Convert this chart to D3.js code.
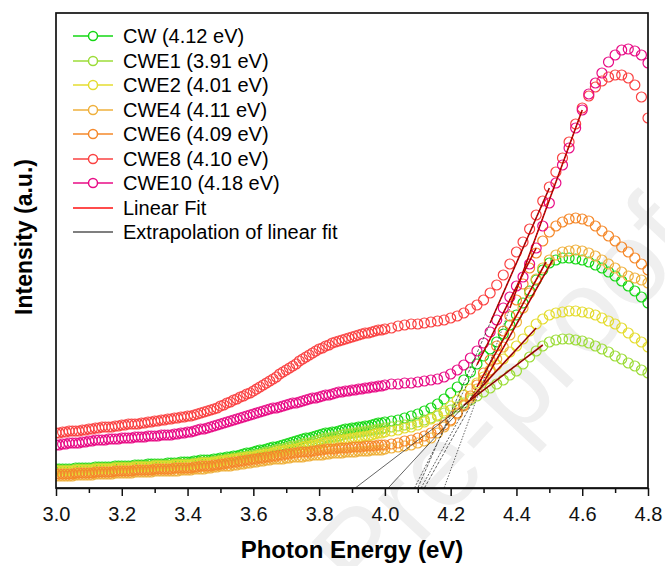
<!DOCTYPE html>
<html>
<head>
<meta charset="utf-8">
<script src="https://cdn.jsdelivr.net/npm/d3@7"></script>
<style>
  body { margin: 0; background: #fff; }
  svg { display: block; font-family: "Liberation Sans", Arial, sans-serif; }
</style>
</head>
<body>
<svg id="chart" width="665" height="566"></svg>
<script>
// photon energy grid (eV): denser where the original points are denser
var energy = [3.00,3.01,3.02,3.03,3.04,3.05,3.06,3.07,3.08,3.09,
  3.10,3.11,3.12,3.13,3.14,3.15,3.16,3.17,3.18,3.19,
  3.20,3.21,3.22,3.23,3.24,3.25,3.26,3.27,3.28,3.29,
  3.30,3.31,3.32,3.33,3.34,3.35,3.36,3.37,3.38,3.39,
  3.40,3.41,3.42,3.43,3.44,3.45,3.46,3.47,3.48,3.49,
  3.50,3.51,3.52,3.53,3.54,3.55,3.56,3.57,3.58,3.59,
  3.60,3.61,3.62,3.63,3.64,3.65,3.66,3.67,3.68,3.69,
  3.70,3.71,3.72,3.73,3.74,3.75,3.76,3.77,3.78,3.79,
  3.80,3.81,3.82,3.83,3.84,3.85,3.86,3.87,3.88,3.89,
  3.90,3.91,3.92,3.93,3.94,3.95,3.96,3.97,3.98,3.99,
  4.00,
  4.02,4.04,4.06,4.08,4.10,4.12,4.14,4.16,4.18,
  4.20,4.22,4.24,4.26,4.28,4.30,4.32,4.34,4.36,4.38,
  4.40,4.42,4.44,4.46,4.48,4.50,4.52,4.54,4.56,4.58,
  4.60,4.62,4.64,4.66,4.68,4.70,4.72,4.74,4.76,4.78,
  4.80];

// intensity (a.u.)
var cw = [19,19,19,19,19,19,20,20,20,20,
  20,20,21,21,21,21,21,21,22,22,
  22,22,22,22,23,23,23,23,24,24,
  24,24,24,24,25,25,25,25,26,26,
  26,26,27,27,28,28,28,28,29,29,
  30,30,31,31,32,32,33,34,35,35,
  36,37,38,38,39,40,41,41,42,43,
  44,45,46,47,48,49,50,50,51,52,
  53,54,55,55,56,56,57,58,59,59,
  60,60,61,61,62,62,63,64,65,65,
  66,
  67,68,70,72,74,77,80,84,89,
  95,101,108,116,124,132,139,146,154,163,
  173,185,197,208,218,225,228,230,230,229,
  228,226,223,220,216,212,207,202,197,191,
  185];
var cwe1 = [18,18,18,18,18,18,19,19,19,19,
  19,19,20,20,20,20,20,20,21,21,
  21,21,21,21,22,22,22,22,22,22,
  23,23,23,23,23,23,24,24,24,24,
  24,24,25,25,26,26,26,26,27,27,
  28,28,29,29,30,30,31,31,32,32,
  33,33,34,35,36,36,37,38,39,39,
  40,41,42,42,43,44,45,45,46,47,
  48,49,50,50,51,51,52,53,54,54,
  55,55,56,56,57,57,58,58,59,59,
  60,
  61,62,63,64,66,68,70,72,75,
  78,81,85,88,92,96,100,104,108,113,
  117,124,131,137,142,146,148,149,149,148,
  147,145,142,139,136,132,129,125,122,118,
  115];
var cwe2 = [17,17,17,17,17,17,18,18,18,18,
  18,18,19,19,19,19,19,19,20,20,
  20,20,20,20,21,21,21,21,21,21,
  22,22,22,22,22,22,23,23,23,23,
  23,23,24,24,25,25,25,25,26,26,
  27,27,28,28,29,29,30,30,31,31,
  31,32,33,33,34,34,35,36,37,37,
  38,38,39,39,40,41,42,42,43,43,
  44,45,46,46,47,47,48,48,49,49,
  50,50,51,51,52,52,53,54,55,55,
  56,
  57,58,60,61,63,66,69,73,77,
  82,88,93,99,105,111,117,123,129,136,
  142,149,157,164,169,173,175,176,177,177,
  176,175,173,170,167,164,160,155,150,146,
  141];
var cwe4 = [12,12,12,12,12,12,13,13,13,13,
  13,13,14,14,14,14,14,14,15,15,
  15,15,15,15,16,16,16,16,16,16,
  17,17,17,17,17,17,17,17,18,18,
  18,18,19,19,19,19,20,20,21,21,
  22,22,22,22,23,23,24,24,25,25,
  26,26,27,27,28,28,29,29,29,29,
  30,30,31,31,31,31,32,32,33,33,
  33,33,34,34,35,35,35,35,36,36,
  36,36,37,37,37,37,38,38,38,38,
  39,
  40,41,42,43,45,47,50,55,61,
  67,74,82,90,99,108,118,129,141,153,
  166,180,195,209,220,228,233,236,237,238,
  237,235,232,228,224,220,216,212,210,208,
  205];
var cwe6 = [14,14,14,14,14,14,15,15,15,15,
  15,15,16,16,16,16,16,16,17,17,
  17,17,17,17,18,18,18,18,18,18,
  19,19,19,19,19,19,20,20,20,20,
  20,20,21,21,22,22,22,22,23,23,
  24,24,25,25,26,26,27,27,28,28,
  29,29,30,30,31,31,32,32,33,33,
  34,34,35,35,36,36,36,36,37,37,
  38,38,39,39,39,39,40,40,40,40,
  41,41,41,41,42,42,42,42,43,43,
  43,
  44,45,47,48,50,52,55,59,63,
  68,75,83,92,103,115,128,142,157,172,
  188,204,220,235,247,256,262,266,269,270,
  269,267,262,257,252,247,241,236,230,224,
  218];
var cwe8 = [55,55,56,56,57,57,57,57,58,58,
  59,59,60,60,61,61,61,61,62,62,
  63,63,64,64,64,64,65,65,66,66,
  67,67,68,68,69,69,70,70,71,71,
  72,72,73,74,75,76,77,78,79,80,
  82,83,85,86,88,89,91,92,94,95,
  97,99,101,103,105,107,109,111,114,116,
  118,120,122,124,127,129,131,133,135,137,
  139,140,142,143,145,146,147,148,149,150,
  151,152,153,154,155,155,156,157,158,158,
  159,
  160,162,163,164,164,165,166,167,168,
  170,172,175,179,183,188,195,203,213,224,
  236,246,259,273,287,301,316,330,346,364,
  380,392,401,407,411,413,413,410,403,391,
  370];
var cwe10 = [43,43,44,44,45,45,45,45,46,46,
  47,47,48,48,48,48,49,49,49,49,
  50,50,50,50,51,51,51,51,52,52,
  52,52,53,53,53,53,54,54,55,55,
  56,56,57,58,59,59,60,61,62,63,
  64,65,66,67,68,69,70,71,72,73,
  74,75,76,77,78,79,80,80,81,82,
  83,84,85,85,86,87,88,89,90,90,
  91,92,93,93,94,95,96,96,97,97,
  98,98,99,99,100,100,101,101,102,102,
  103,
  104,104,105,105,106,107,108,109,111,
  114,118,123,130,137,145,156,168,180,191,
  202,211,224,240,262,285,305,323,340,360,
  378,394,405,415,426,433,438,439,437,433,
  425];

var names = ["CW", "CWE1", "CWE2", "CWE4", "CWE6", "CWE8", "CWE10"];
var colors = ["#14d714", "#9cdc38", "#e4dc30", "#efb03c", "#f5882a", "#fa4242", "#e80c86"];
var seriesValues = [cw, cwe1, cwe2, cwe4, cwe6, cwe8, cwe10];

// band gap from extrapolation, and the fitted segment
var bandGap = [4.12, 3.91, 4.01, 4.11, 4.09, 4.10, 4.18];
var fitStart = [4.30, 4.24, 4.26, 4.28, 4.28, 4.32, 4.38];
var fitEnd = [4.51, 4.48, 4.46, 4.49, 4.46, 4.50, 4.60];
var fitEndValue = [228, 143, 160, 226, 240, 300, 378];
var extrapDash = ["3,1.5", "none", "none", "2,1.5", "2,1.5", "3,1.5", "1.5,1.5"];

var xTicks = [3.0, 3.2, 3.4, 3.6, 3.8, 4.0, 4.2, 4.4, 4.6, 4.8];
var xMinorTicks = [3.1, 3.3, 3.5, 3.7, 3.9, 4.1, 4.3, 4.5, 4.7];

var margin = { top: 13, right: 17, bottom: 78, left: 56 };
var W = 665, H = 566;
var width = W - margin.left - margin.right,
    height = H - margin.top - margin.bottom;

var svg = d3.select("#chart");

var xScale = d3.scaleLinear().domain([3.0, 4.8]).range([margin.left, margin.left + width]);
var yScale = d3.scaleLinear().domain([0, 475]).range([margin.top + height, margin.top]);

// faint watermark
svg.append("text")
    .attr("transform", "translate(700,245) rotate(-47)")
    .attr("text-anchor", "end")
    .style("font-size", "118px")
    .style("fill", "#efefef")
    .text("Journal Pre-proof");

svg.append("defs").append("clipPath").attr("id", "clip")
    .append("rect")
    .attr("x", margin.left).attr("y", margin.top)
    .attr("width", width).attr("height", height);

var plot = svg.append("g").attr("clip-path", "url(#clip)");

// data circles
seriesValues.forEach(function (vals, i) {
    var pts = energy.map(function (e, j) { return { e: e, v: vals[j] }; });
    plot.append("g")
        .selectAll("circle")
        .data(pts)
        .enter()
        .append("circle")
        .attr("cx", function (d) { return xScale(d.e); })
        .attr("cy", function (d) { return yScale(d.v); })
        .attr("r", 5)
        .attr("fill", "none")
        .attr("stroke", colors[i])
        .attr("stroke-width", 1.2);
});

// linear fits + extrapolation to the baseline
seriesValues.forEach(function (vals, i) {
    var slope = fitEndValue[i] / (fitEnd[i] - bandGap[i]);
    var startVal = slope * (fitStart[i] - bandGap[i]);
    plot.append("line")
        .attr("x1", xScale(fitStart[i])).attr("y1", yScale(startVal))
        .attr("x2", xScale(fitEnd[i])).attr("y2", yScale(fitEndValue[i]))
        .attr("stroke", "#e00000")
        .attr("stroke-width", 1.6);
    plot.append("line")
        .attr("x1", xScale(bandGap[i])).attr("y1", yScale(0))
        .attr("x2", xScale(fitEnd[i])).attr("y2", yScale(fitEndValue[i]))
        .attr("stroke", "#222")
        .attr("stroke-width", 0.7)
        .attr("stroke-dasharray", extrapDash[i]);
});

// frame
svg.append("rect")
    .attr("x", margin.left).attr("y", margin.top)
    .attr("width", width).attr("height", height)
    .attr("fill", "none")
    .attr("stroke", "#111")
    .attr("stroke-width", 1.7);

// x axis
var xAxis = d3.axisBottom(xScale)
    .tickValues(xTicks)
    .tickFormat(d3.format(".1f"))
    .tickSizeInner(8)
    .tickSizeOuter(0)
    .tickPadding(11);
var gx = svg.append("g")
    .attr("transform", "translate(0," + (margin.top + height) + ")")
    .call(xAxis);
gx.select(".domain").attr("stroke", "#111").attr("stroke-width", 1.7);
gx.selectAll(".tick line").attr("stroke", "#111").attr("stroke-width", 1.5);
gx.selectAll("text")
    .style("font-size", "20px")
    .style("font-family", "'Liberation Sans', Arial, sans-serif")
    .attr("fill", "#111");

var xMinor = d3.axisBottom(xScale).tickValues(xMinorTicks).tickSize(5).tickFormat("");
var gm = svg.append("g")
    .attr("transform", "translate(0," + (margin.top + height) + ")")
    .call(xMinor);
gm.select(".domain").remove();
gm.selectAll(".tick line").attr("stroke", "#111").attr("stroke-width", 1.5);

// axis titles
svg.append("text")
    .attr("x", 352)
    .attr("y", 558)
    .attr("text-anchor", "middle")
    .style("font-size", "24px")
    .style("font-weight", "bold")
    .text("Photon Energy (eV)");

svg.append("text")
    .attr("transform", "translate(32,237) rotate(-90)")
    .attr("text-anchor", "middle")
    .style("font-size", "23px")
    .style("font-weight", "bold")
    .text("Intensity (a.u.)");

// legend
var legend = svg.append("g");
var rowY = function (i) { return Math.round(36 + i * 24.5); };
names.forEach(function (n, i) {
    var y = rowY(i);
    legend.append("line")
        .attr("x1", 73).attr("x2", 113).attr("y1", y).attr("y2", y)
        .attr("stroke", colors[i]).attr("stroke-width", 1.5);
    legend.append("circle")
        .attr("cx", 93).attr("cy", y).attr("r", 4.5)
        .attr("fill", "#fff").attr("stroke", colors[i]).attr("stroke-width", 1.5);
    legend.append("text")
        .attr("x", 123).attr("y", y).attr("dy", "0.35em")
        .style("font-size", "20px")
        .text(n + " (" + bandGap[i].toFixed(2) + " eV)");
});
legend.append("line")
    .attr("x1", 73).attr("x2", 113).attr("y1", rowY(7)).attr("y2", rowY(7))
    .attr("stroke", "#ff1010").attr("stroke-width", 1.5);
legend.append("text")
    .attr("x", 123).attr("y", rowY(7)).attr("dy", "0.35em")
    .style("font-size", "20px")
    .text("Linear Fit");
legend.append("line")
    .attr("x1", 73).attr("x2", 113).attr("y1", rowY(8)).attr("y2", rowY(8))
    .attr("stroke", "#555").attr("stroke-width", 1.5);
legend.append("text")
    .attr("x", 123).attr("y", rowY(8)).attr("dy", "0.35em")
    .style("font-size", "20px")
    .text("Extrapolation of linear fit");
</script>
</body>
</html>
